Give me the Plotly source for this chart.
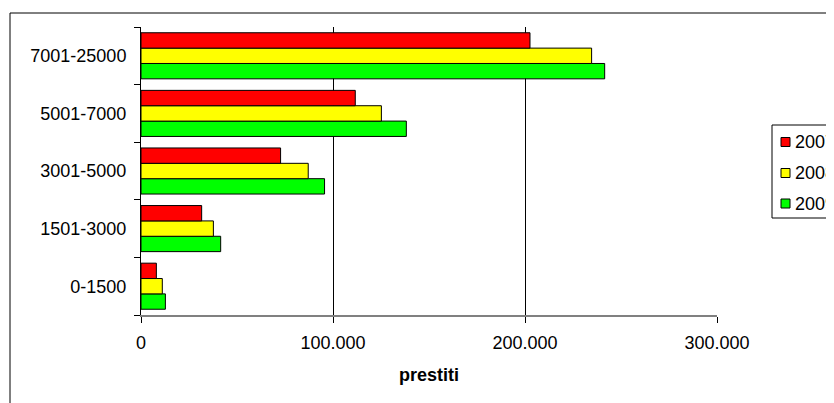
import plotly.graph_objects as go

categories = ["0-1500", "1501-3000", "3001-5000", "5001-7000", "7001-25000"]
years = ["2007", "2008", "2009"]
values_2007 = [8000, 31600, 72700, 111600, 202600]
values_2008 = [11100, 37700, 87100, 125200, 234700]
values_2009 = [12700, 41500, 95600, 138200, 241500]
colors = {"2007": "#FF0000", "2008": "#FFFF00", "2009": "#00FF00"}
series = {"2007": values_2007, "2008": values_2008, "2009": values_2009}

# page body has an 8px margin: work in figure pixels = screen pixels - 8
OFF = 8
W, H = 834 - OFF, 403 - OFF
L, R, T, B = 141 - OFF, 717 - OFF, 27 - OFF, 315 - OFF
pw, ph = R - L, B - T


def px(x):
    return (x - OFF - L) / pw


def py(y):
    return (B - (y - OFF)) / ph


fig = go.Figure()
for y in ["2009", "2008", "2007"]:
    fig.add_trace(go.Bar(
        y=categories, x=series[y], name=y, orientation="h",
        showlegend=False,
        marker=dict(color=colors[y], line=dict(color="black", width=1)),
    ))

font = "Liberation Sans, Arial, sans-serif"

shapes = [
    dict(
        type="rect", xref="paper", yref="paper",
        x0=px(10), x1=px(900), y0=py(500), y1=py(13),
        line=dict(color="black", width=1), fillcolor="rgba(0,0,0,0)", layer="below",
    ),
    dict(
        type="rect", xref="paper", yref="paper",
        x0=px(772), x1=px(900), y0=py(218), y1=py(125),
        line=dict(color="black", width=1), fillcolor="white", layer="above",
    ),
]
annotations = []
legend_y = [142, 173, 203.5]
for yr, cy in zip(years, legend_y):
    shapes.append(dict(
        type="rect", xref="paper", yref="paper",
        x0=px(781), x1=px(790), y0=py(cy + 4.5), y1=py(cy - 4.5),
        line=dict(color="black", width=1), fillcolor=colors[yr], layer="above",
    ))
    annotations.append(dict(
        text=yr, xref="paper", yref="paper", x=px(793), y=py(cy),
        xanchor="left", yanchor="middle", showarrow=False,
        font=dict(family=font, size=18, color="black"),
    ))

fig.update_layout(
    width=W, height=H,
    margin=dict(l=L, r=W - R, t=T, b=H - B, pad=0, autoexpand=False),
    paper_bgcolor="white", plot_bgcolor="white",
    separators=",.",
    barmode="group", bargap=0.2, bargroupgap=0,
    font=dict(family=font, size=18, color="black"),
    showlegend=False,
    xaxis=dict(
        range=[0, 300000], tickvals=[0, 100000, 200000, 300000], tickformat=",d",
        showgrid=True, gridcolor="black", gridwidth=1,
        showline=True, linecolor="#808080", linewidth=2,
        ticks="outside", ticklen=6, tickcolor="black",
        ticklabelstandoff=4,
        zeroline=False,
        title=dict(text="<b>prestiti</b>", standoff=17, font=dict(size=18)),
    ),
    yaxis=dict(
        showline=True, linecolor="black", linewidth=1,
        ticks="outside", ticklen=6, tickcolor="black", tickson="boundaries",
        ticklabelstandoff=10,
        showgrid=False, zeroline=False,
    ),
    shapes=shapes,
    annotations=annotations,
)

fig.write_html("out.html")
